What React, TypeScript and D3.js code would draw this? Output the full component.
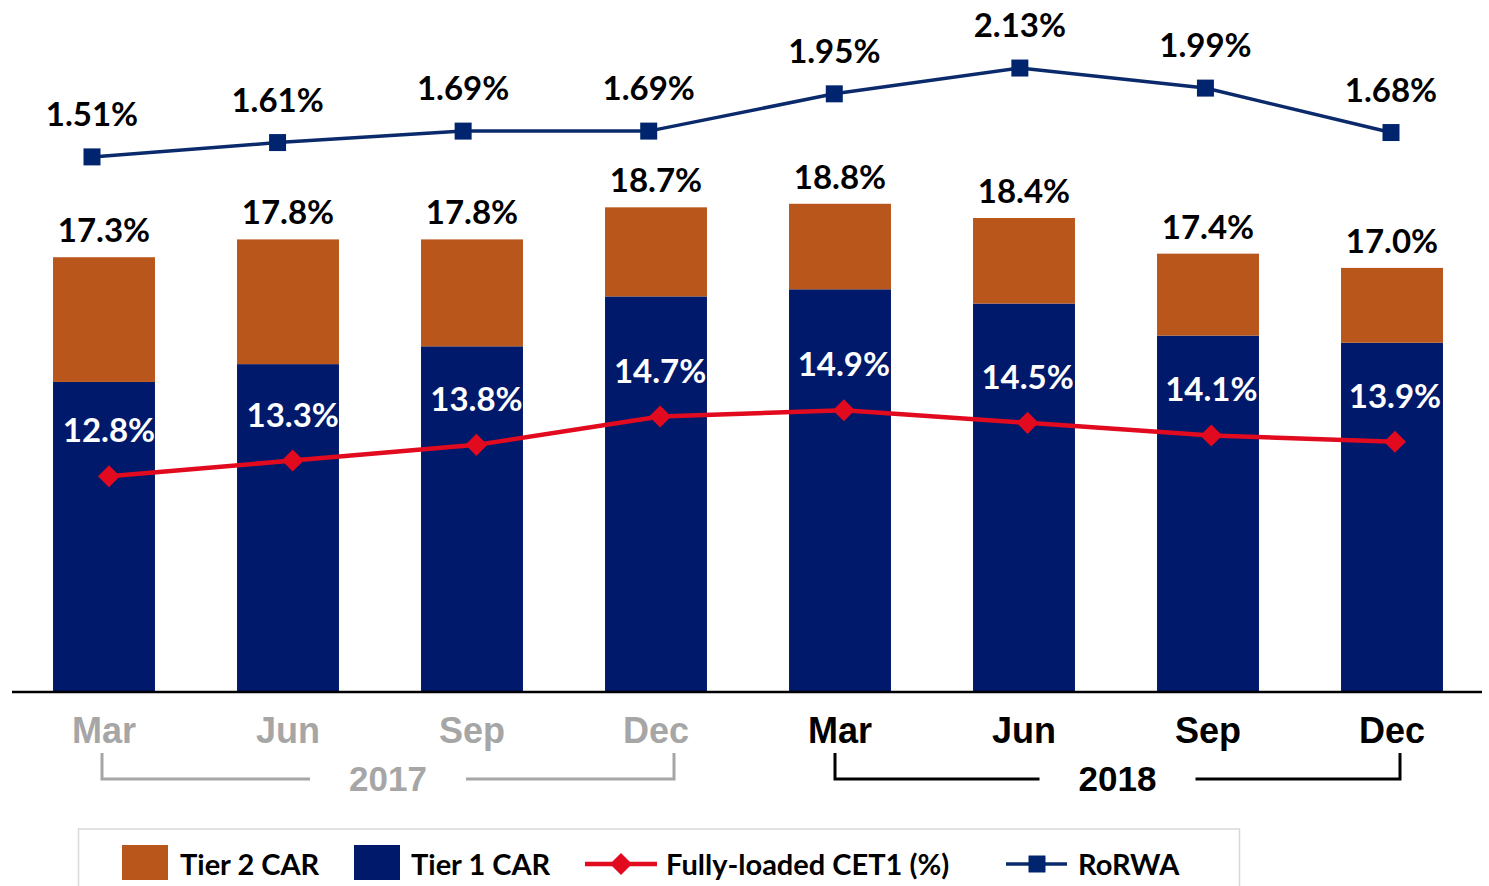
import * as d3 from 'd3'
import React from 'react'

// quarters and values
const quarters = ['Mar', 'Jun', 'Sep', 'Dec', 'Mar', 'Jun', 'Sep', 'Dec']
const years = ['2017', '2017', '2017', '2017', '2018', '2018', '2018', '2018']
const tier1Car = [13.8, 14.3, 14.8, 16.2, 16.4, 16.0, 15.1, 14.9]
const tier2Car = [3.5, 3.5, 3.0, 2.5, 2.4, 2.4, 2.3, 2.1]
const cet1 = [12.8, 13.3, 13.8, 14.7, 14.9, 14.5, 14.1, 13.9]
const rorwa = [1.51, 1.61, 1.69, 1.69, 1.95, 2.13, 1.99, 1.68]

const W = 1489
const H = 886
const base = 692

const ORANGE = '#B9561B'
const NAVY = '#01196B'
const RED = '#E20A1F'
const LINE_NAVY = '#0B2A6C'
const GREY = '#A6A6A6'
const LABEL_FONT = 'Lato, "Open Sans", sans-serif'
const AXIS_FONT = '"Liberation Sans", Arial, sans-serif'

const App = () => {
  const idx = quarters.map((_, i) => i)
  const x = d3.scaleBand<number>().domain(idx).range([12, 1484]).paddingInner(0.446).paddingOuter(0.223)
  const xCet = d3.scalePoint<number>().domain(idx).range([109, 1395])
  const xRor = d3.scalePoint<number>().domain(idx).range([92, 1391])

  const yBar = d3.scaleLinear().domain([5.1, 20]).range([base, 161])
  const yCet = d3.scaleLinear().domain([6, 20]).range([690, 250])
  const yRor = d3.scaleLinear().domain([1.0, 2.5]).range([230, 15])

  const fmt1 = d3.format('.1f')
  const fmt2 = d3.format('.2f')
  const bw = x.bandwidth()
  const cx = (i: number) => (x(i) as number) + bw / 2

  const cetLine = d3.line<number>().x((_, i) => xCet(i) as number).y(d => yCet(d))
  const rorLine = d3.line<number>().x((_, i) => xRor(i) as number).y(d => yRor(d))
  const diamond = d3.symbol(d3.symbolSquare, 243)()
  const square = d3.symbol(d3.symbolSquare, 289)()

  const yearGroups = d3.groups(idx, i => years[i])

  return (
    <svg width={W} height={H} style={{ position: 'absolute', left: 0, top: 0, background: '#fff' }}>
      {/* stacked bars */}
      {idx.map(i => {
        const total = tier1Car[i] + tier2Car[i]
        return (
          <g key={'b' + i}>
            <rect x={x(i)} width={bw} y={yBar(tier1Car[i])} height={base - yBar(tier1Car[i])} fill={NAVY} />
            <rect x={x(i)} width={bw} y={yBar(total)} height={yBar(tier1Car[i]) - yBar(total)} fill={ORANGE} />
            <text x={cx(i)} y={yBar(total) - 15} textAnchor='middle' fontFamily={LABEL_FONT} fontWeight={700} fontSize={33} fill='#000'>
              {fmt1(total)}%
            </text>
          </g>
        )
      })}

      {/* axis line */}
      <line x1={12} x2={1482} y1={base} y2={base} stroke='#000' strokeWidth={2.5} />

      {/* CET1 line */}
      <path d={cetLine(cet1) as string} fill='none' stroke={RED} strokeWidth={4.5} />
      {cet1.map((v, i) => (
        <g key={'c' + i}>
          <path d={diamond as string} transform={`translate(${xCet(i)},${yCet(v)}) rotate(45)`} fill={RED} />
          <text x={xCet(i)} y={yCet(v) - 34} textAnchor='middle' fontFamily={LABEL_FONT} fontWeight={700} fontSize={33} fill='#fff'>
            {fmt1(v)}%
          </text>
        </g>
      ))}

      {/* RoRWA line */}
      <path d={rorLine(rorwa) as string} fill='none' stroke={LINE_NAVY} strokeWidth={3.5} />
      {rorwa.map((v, i) => (
        <g key={'r' + i}>
          <path d={square as string} transform={`translate(${xRor(i)},${yRor(v)})`} fill='#00256E' />
          <text x={xRor(i)} y={yRor(v) - 31} textAnchor='middle' fontFamily={LABEL_FONT} fontWeight={700} fontSize={33} fill='#000'>
            {fmt2(v)}%
          </text>
        </g>
      ))}

      {/* category labels */}
      {idx.map(i => (
        <text key={'q' + i} x={cx(i)} y={743} textAnchor='middle' fontFamily={AXIS_FONT} fontWeight={700} fontSize={36}
          fill={years[i] === '2017' ? GREY : '#000'}>
          {quarters[i]}
        </text>
      ))}

      {/* year brackets */}
      {yearGroups.map(([yr, is]) => {
        const col = yr === '2017' ? GREY : '#000'
        const left = cx(is[0]) - (yr === '2017' ? 2 : 5)
        const right = cx(is[is.length - 1]) + (yr === '2017' ? 18 : 8)
        const mid = (left + right) / 2
        const yh = 779
        return (
          <g key={yr}>
            <path d={`M${left},753V${yh}H${mid - 78}`} fill='none' stroke={col} strokeWidth={3} />
            <path d={`M${mid + 78},${yh}H${right}V753`} fill='none' stroke={col} strokeWidth={3} />
            <text x={mid} y={791} textAnchor='middle' fontFamily={AXIS_FONT} fontWeight={700} fontSize={35} fill={col}>
              {yr}
            </text>
          </g>
        )
      })}

      {/* legend */}
      <rect x={78.5} y={829} width={1161} height={70} fill='none' stroke='#D9D9D9' strokeWidth={1.5} />
      <rect x={122} y={845} width={46} height={35} fill={ORANGE} />
      <text x={180} y={875} fontFamily={LABEL_FONT} fontWeight={700} fontSize={29}>Tier 2 CAR</text>
      <rect x={354} y={845} width={46} height={35} fill={NAVY} />
      <text x={411} y={875} fontFamily={LABEL_FONT} fontWeight={700} fontSize={29}>Tier 1 CAR</text>
      <line x1={585} x2={657} y1={864} y2={864} stroke={RED} strokeWidth={4.5} />
      <path d={diamond as string} transform='translate(621,864) rotate(45)' fill={RED} />
      <text x={666} y={875} fontFamily={LABEL_FONT} fontWeight={700} fontSize={29}>Fully-loaded CET1 (%)</text>
      <line x1={1006} x2={1067} y1={864} y2={864} stroke={LINE_NAVY} strokeWidth={3.5} />
      <path d={square as string} transform='translate(1037,864)' fill='#00256E' />
      <text x={1078} y={875} fontFamily={LABEL_FONT} fontWeight={700} fontSize={29}>RoRWA</text>
    </svg>
  )
}

export default App
